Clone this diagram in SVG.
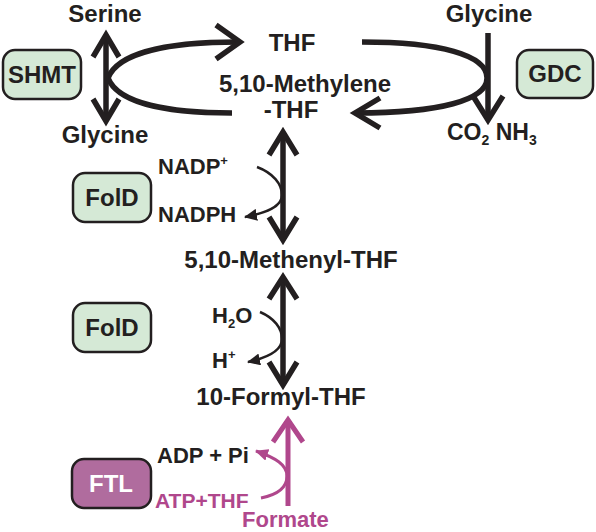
<svg xmlns="http://www.w3.org/2000/svg" width="596" height="532" viewBox="0 0 596 532">
<style>
.t{font-family:"Liberation Sans",Arial,sans-serif;font-weight:bold;font-size:24px;fill:#231f20}
.s{font-family:"Liberation Sans",Arial,sans-serif;font-weight:bold;font-size:22px;fill:#231f20}
.p{fill:#b0478c}
.box{fill:#d5e9d6;stroke:#231f20;stroke-width:2.5}
.fbox{fill:#b06c9e;stroke:#231f20;stroke-width:2.5}
.ln{fill:none;stroke:#231f20;stroke-width:5.5}
.thin{fill:none;stroke:#231f20;stroke-width:2.5}
.pl{fill:none;stroke:#b0478c;stroke-width:5}
.pthin{fill:none;stroke:#b0478c;stroke-width:3}
</style>
<defs>
<marker id="ah" markerUnits="userSpaceOnUse" markerWidth="14" markerHeight="12" refX="12" refY="6" orient="auto">
<path d="M0,0 L13,6 L0,12 Z" fill="#231f20"/>
</marker>
<marker id="ahp" markerUnits="userSpaceOnUse" markerWidth="14" markerHeight="12" refX="12" refY="6" orient="auto">
<path d="M0,0 L13,6 L0,12 Z" fill="#b0478c"/>
</marker>
</defs>
<g id="connectors">
<path class="ln" d="M108,78 C118,52 170,42 238,42"/>
<path class="ln" d="M108,78 C118,104 170,113 232,113"/>
<path class="ln" d="M216,25 L240,42 L216,59"/>
<path class="ln" d="M106,35 L106,121"/>
<path class="ln" d="M93,57 L106,35 L119,57"/>
<path class="ln" d="M93,99 L106,121 L119,99"/>
<path class="ln" d="M362,42 C440,42 487,55 487,78 C487,100 440,113 356,113"/>
<path class="ln" d="M380,98 L355,113 L380,128"/>
<path class="ln" d="M488,33 L488,120"/>
<path class="ln" d="M473,96 L488,120 L503,96"/>
<path class="ln" d="M283,132 L283,240"/>
<path class="ln" d="M269,155 L283,132 L297,155"/>
<path class="ln" d="M269,217 L283,240 L297,217"/>
<path class="thin" marker-end="url(#ah)" d="M257,167 C273,173 282,184 282,195 C282,207 266,213 245,217"/>
<path class="ln" d="M283,277 L283,385"/>
<path class="ln" d="M269,299 L283,277 L297,299"/>
<path class="ln" d="M269,362 L283,385 L297,362"/>
<path class="thin" marker-end="url(#ah)" d="M260,312 C274,318 282,328 282,339 C282,351 266,358 248,362"/>
<path class="pl" d="M288,506 L288,420"/>
<path class="pl" d="M273,442 L288,420 L303,442"/>
<path class="pthin" marker-end="url(#ahp)" d="M261,498 C276,495 287,488 287,476 C287,465 276,458 256,451"/>
</g>
<g id="serine"><text class="t" x="105" y="22" text-anchor="middle">Serine</text></g>
<g id="glycine-left"><text class="t" x="105" y="143" text-anchor="middle">Glycine</text></g>
<g id="shmt"><rect class="box" x="3" y="50" width="78" height="49" rx="12"/><text class="t" x="42" y="83" text-anchor="middle">SHMT</text></g>
<g id="thf"><text class="t" x="292" y="51" text-anchor="middle">THF</text></g>
<g id="methylene-thf"><text class="t" x="305" y="92" text-anchor="middle">5,10-Methylene</text><text class="t" x="291" y="118" text-anchor="middle">-THF</text></g>
<g id="glycine-right"><text class="t" x="489" y="22" text-anchor="middle">Glycine</text></g>
<g id="gdc"><rect class="box" x="517" y="50" width="76" height="48" rx="12"/><text class="t" x="555" y="82" text-anchor="middle">GDC</text></g>
<g id="co2-nh3"><text class="s" x="447" y="140" style="font-size:23px">CO<tspan style="font-size:14px" dy="5">2</tspan><tspan dy="-5"> NH</tspan><tspan style="font-size:14px" dy="5">3</tspan></text></g>
<g id="fold1"><rect class="box" x="73" y="173" width="78" height="49" rx="12"/><text class="t" x="112" y="206" text-anchor="middle">FolD</text></g>
<g id="nadp"><text class="s" x="158" y="174">NADP<tspan style="font-size:13px" dy="-9">+</tspan></text></g>
<g id="nadph"><text class="s" x="158" y="222">NADPH</text></g>
<g id="methenyl-thf"><text class="t" x="291" y="268" text-anchor="middle">5,10-Methenyl-THF</text></g>
<g id="fold2"><rect class="box" x="73" y="303" width="78" height="49" rx="12"/><text class="t" x="112" y="336" text-anchor="middle">FolD</text></g>
<g id="h2o"><text class="s" x="212" y="323">H<tspan style="font-size:13px" dy="5">2</tspan><tspan dy="-5">O</tspan></text></g>
<g id="hplus"><text class="s" x="212" y="368">H<tspan style="font-size:13px" dy="-9">+</tspan></text></g>
<g id="formyl-thf"><text class="t" x="281" y="405" text-anchor="middle">10-Formyl-THF</text></g>
<g id="ftl"><rect class="fbox" x="72" y="459" width="79" height="49" rx="12"/><text class="t" x="111" y="492" text-anchor="middle" style="fill:#ffffff">FTL</text></g>
<g id="adp-pi"><text class="s" x="157" y="463">ADP + Pi</text></g>
<g id="atp-thf"><text class="s p" x="155" y="508" style="font-size:21px">ATP+THF</text></g>
<g id="formate"><text class="s p" x="242" y="527">Formate</text></g>
</svg>
